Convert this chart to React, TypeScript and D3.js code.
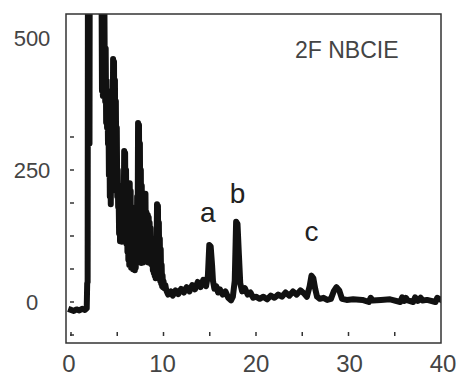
import React from "react";
import * as d3 from "d3";

const times: number[] = [
  0, 0.3, 0.6, 0.9, 1.2, 1.5, 1.7, 1.75, 1.8, 1.85, 1.95, 2.0, 2.05, 3.2,
  3.3, 3.35, 3.4, 3.45, 3.5, 3.55, 3.6, 3.65, 3.7, 3.75, 3.8, 3.85, 3.9, 3.95,
  4.0, 4.05, 4.1, 4.15, 4.2, 4.25, 4.3, 4.35, 4.4,
  4.5, 4.55, 4.6, 4.65, 4.7, 4.75, 4.8, 4.85, 4.9, 4.95, 5.0, 5.05, 5.1,
  5.15, 5.2, 5.25, 5.3, 5.35, 5.4, 5.45, 5.5, 5.55, 5.6,
  5.7, 5.75, 5.8, 5.85, 5.9, 5.95, 6.0, 6.05, 6.1, 6.15, 6.2, 6.25, 6.3,
  6.35, 6.4, 6.45, 6.5, 6.55, 6.6, 6.65, 6.7, 6.75, 6.8, 6.85, 6.9, 6.95, 7.0, 7.05,
  7.1, 7.15, 7.2, 7.25, 7.3, 7.35, 7.4, 7.45, 7.5, 7.55, 7.6, 7.65, 7.7, 7.75, 7.8,
  7.85, 7.9, 7.95, 8.0, 8.05, 8.1, 8.15, 8.2, 8.3, 8.35, 8.4, 8.45, 8.5, 8.55, 8.6, 8.65, 8.7, 8.75, 8.8, 8.85, 8.9, 8.95, 9.0, 9.05, 9.1, 9.15,
  9.2, 9.25, 9.3, 9.35, 9.4, 9.45, 9.5, 9.55, 9.6, 9.65, 9.7, 9.75, 9.8, 9.85, 9.9, 9.95, 10.0, 10.1, 10.2, 10.3,
  10.5, 10.8, 11.0, 11.3, 11.6, 11.9, 12.2, 12.5, 12.8, 13.1, 13.4, 13.7, 14.0, 14.3, 14.6,
  14.8, 14.95, 15.1, 15.25, 15.35, 15.5, 15.7, 15.9, 16.1, 16.4, 16.7, 17.0, 17.3, 17.5,
  17.7, 17.85, 18.0, 18.15, 18.3, 18.5, 18.8, 19.1, 19.4, 19.7, 20.0, 20.4, 20.8, 21.2, 21.6, 22.0, 22.4, 22.8, 23.2, 23.6, 24.0, 24.4, 24.8, 25.2, 25.5,
  25.8, 26.0, 26.2, 26.4, 26.6, 26.9, 27.3, 27.7, 28.1,
  28.4, 28.7, 29.0, 29.3, 29.8, 30.5, 31.5, 32.2, 32.4, 32.6, 33.5, 34.5, 35.6, 35.8, 36.0, 36.2, 36.4, 37.0, 37.2, 37.5, 37.8, 38.0, 38.5, 39.4, 39.6, 40,
];

const signal: number[] = [
  -15, -17, -14, -16, -13, -15, -12, 35, 38, 1000, 1000, 300, 1000, 1000,
  600, 400, 560, 390, 520, 440, 600, 436, 380, 480, 340, 420, 330, 400,
  300, 362, 240, 330, 200, 300, 185, 280, 210,
  260, 460, 300, 455, 250, 420, 220, 380, 230, 330, 200, 250, 180,
  200, 130, 210, 115, 220, 120, 180, 114, 200, 130,
  160, 286, 140, 282, 130, 250, 110, 220, 95, 200, 80, 180, 70,
  225, 75, 210, 65, 180, 80, 160, 62, 140, 70, 120, 60, 130, 65, 110,
  90, 200, 110, 339, 150, 335, 100, 300, 80, 250, 74, 220, 90, 200, 75,
  180, 80, 200, 90, 205, 85, 170, 80, 165, 75, 160, 78, 150, 74, 140, 72, 120, 70, 110, 60, 100, 55, 90, 50, 80, 45,
  60, 100, 185, 60, 182, 50, 150, 45, 120, 40, 100, 35, 70, 30, 50, 28, 40, 26, 32, 22,
  14, 20, 12, 22, 15, 25, 18, 28, 20, 32, 24, 38, 28, 42, 30,
  50, 108, 105, 70, 40, 25, 30, 18, 24, 14, 20, 8, 3, 10,
  40, 152, 148, 90, 35, 20, 26, 14, 18, 8, 10, 6, 10, 5, 12, 8, 14, 10, 18, 12, 20, 14, 22, 16, 10,
  30, 50, 45, 25, 10, 6, 8, 4, 6,
  20, 28, 22, 6, 4, 5, 4, 0, 8, 3, 4, 5, 0, 9, 2, 8, 3, 0, 9, 2, 8, 3, 4, 0, 8, 4,
];

const xTickValues: number[] = [0, 5, 10, 15, 20, 25, 30, 35];
const yTickValues: number[] = [-62.5, 0, 62.5, 125, 187.5, 250, 312.5];
const xLabels: number[] = [0, 10, 20, 30, 40];
const yLabels: number[] = [0, 250, 500];
const title = "2F NBCIE";
const peakLetters: string[] = ["a", "b", "c"];
const peakTimes: number[] = [14.8, 18.0, 26.0];
const peakLabelValues: number[] = [152, 188, 115];

export default function App() {
  const W = 457;
  const H = 376;
  const frame = { left: 66, top: 14, right: 441, bottom: 343 };
  const x = d3.scaleLinear().domain([0, 40]).range([71, 441]);
  const y = d3.scaleLinear().domain([0, 250]).range([302, 170]);
  const xLab = d3.scaleLinear().domain([0, 40]).range([69, 443]);

  const pts = times.map((t, i) => [t, signal[i]] as [number, number]);
  const line = d3
    .line<[number, number]>()
    .x((d) => x(d[0]))
    .y((d) => y(d[1]));

  const axisY = y(-62.5);
  const textColor = "#444";
  const font = "'Liberation Sans', Arial, sans-serif";

  return (
    <svg
      width={W}
      height={H}
      style={{ position: "absolute", left: 0, top: 0, background: "#fff" }}
    >
      <defs>
        <clipPath id="plotclip">
          <rect
            x={frame.left}
            y={frame.top}
            width={frame.right - frame.left}
            height={frame.bottom - frame.top}
          />
        </clipPath>
      </defs>
      <rect x={0} y={0} width={W} height={H} fill="#fff" />
      <g clipPath="url(#plotclip)">
        <path
          d={line(pts) || ""}
          fill="none"
          stroke="#111"
          strokeWidth={6}
          strokeLinejoin="round"
          strokeLinecap="square"
        />
      </g>
      {xTickValues.map((t) => (
        <line
          key={"xt" + t}
          x1={x(t)}
          x2={x(t)}
          y1={axisY - 3}
          y2={axisY + 1}
          stroke="#333"
          strokeWidth={1.5}
        />
      ))}
      {yTickValues.map((v) => (
        <line
          key={"yt" + v}
          x1={x(0) - 1}
          x2={x(0) + 3}
          y1={y(v)}
          y2={y(v)}
          stroke="#333"
          strokeWidth={1.5}
        />
      ))}
      <rect
        x={frame.left}
        y={frame.top}
        width={frame.right - frame.left}
        height={frame.bottom - frame.top}
        fill="none"
        stroke="#333"
        strokeWidth={1.5}
      />
      {yLabels.map((v) => (
        <text
          key={"yl" + v}
          x={32}
          y={y(v)}
          dy="0.36em"
          textAnchor="middle"
          fontFamily={font}
          fontSize={22}
          fill={textColor}
        >
          {v}
        </text>
      ))}
      {xLabels.map((t) => (
        <text
          key={"xl" + t}
          x={xLab(t)}
          y={372}
          textAnchor="middle"
          fontFamily={font}
          fontSize={24}
          fill={textColor}
        >
          {t}
        </text>
      ))}
      <text x={295} y={58} fontFamily={font} fontSize={23} fill={textColor}>
        {title}
      </text>
      {peakLetters.map((s, i) => (
        <text
          key={s}
          x={x(peakTimes[i])}
          y={y(peakLabelValues[i])}
          textAnchor="middle"
          fontFamily={font}
          fontSize={28}
          fill={"#222"}
        >
          {s}
        </text>
      ))}
    </svg>
  );
}
